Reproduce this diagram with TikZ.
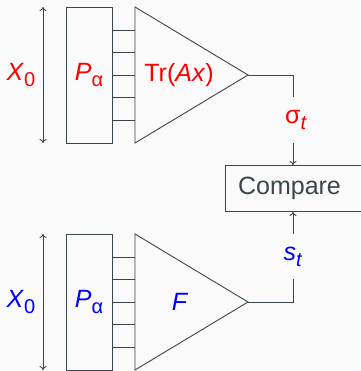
\documentclass[tikz,border=0pt]{standalone}
\usepackage{fontspec}
\setmainfont{Liberation Sans}
\usetikzlibrary{arrows.meta}
\definecolor{ln}{HTML}{3A4649}
\definecolor{bg}{HTML}{FAFAFA}
\definecolor{rd}{HTML}{FF0000}
\definecolor{bl}{HTML}{0000FF}
\newcommand{\sbs}[1]{\raisebox{-0.22em}{\fontsize{20}{22}\selectfont #1}}
\begin{document}
\begin{tikzpicture}[x=1pt,y=-1pt,
  font=\fontsize{25}{30}\selectfont,
  wire/.style={draw=ln, line width=0.9pt},
  blk/.style={draw=ln, line width=0.9pt, minimum width=46pt, minimum height=136pt, inner sep=0pt},
  lbl/.style={inner sep=0pt},
  tip/.style={wire, -{To[length=4pt,width=7pt]}},
  dbl/.style={wire, {To[length=4pt,width=7pt]}-{To[length=4pt,width=7pt]}},
  cmp/.style={draw=ln, line width=0.9pt, minimum width=136pt, minimum height=46pt, inner sep=0pt, text=ln}
]
\fill[bg] (0,0) rectangle (360,371);
\useasboundingbox (0,0) rectangle (360,371);

% ---------- top chain ----------
\coordinate (xa1) at (43,7);
\coordinate (xb1) at (43,143);
\draw[dbl] (xa1) -- (xb1);
\node[lbl, text=rd] (x1) at (21,75) {\textit{X}\sbs{0}};
\node[blk] (p1) at (89,75) {};
\node[lbl, text=rd] (p1l) at (89,75) {\textit{P}\sbs{α}};
\coordinate (ta1) at (135,7);
\coordinate (tb1) at (135,143);
\coordinate (tc1) at (248,75);
\draw[wire] (ta1) -- (tc1) -- (tb1) -- cycle;
\foreach \y [count=\i] in {30,52.5,75,97.5,120}{
  \coordinate (ls1\i) at (112,\y);
  \coordinate (le1\i) at (135,\y);
  \draw[wire] (ls1\i) -- (le1\i);
}
\node[lbl, text=rd] (tr) at (179,75) {Tr(\textit{Ax})};

% ---------- compare ----------
\node[cmp] (cmp) at (293,188.5) {};
\node[lbl, text=ln] (cmpl) at (289.5,188) {Compare};
\node[lbl, text=rd] (sig) at (296,120) {σ\sbs{\textit{t}}};
\coordinate (c1) at (293,75);
\coordinate (c1b) at (293,97);
\coordinate (c1c) at (293,143);
\draw[wire] (tc1) -- (c1) -- (c1b);
\draw[tip] (c1c) -- (cmp.north);

% ---------- bottom chain ----------
\coordinate (xa2) at (43,234);
\coordinate (xb2) at (43,370);
\draw[dbl] (xa2) -- (xb2);
\node[lbl, text=bl] (x2) at (21,302) {\textit{X}\sbs{0}};
\node[blk] (p2) at (89,302) {};
\node[lbl, text=bl] (p2l) at (89,302) {\textit{P}\sbs{α}};
\coordinate (ta2) at (135,234);
\coordinate (tb2) at (135,370);
\coordinate (tc2) at (248,302);
\draw[wire] (ta2) -- (tc2) -- (tb2) -- cycle;
\foreach \y [count=\i] in {257,279.5,302,324.5,347}{
  \coordinate (ls2\i) at (112,\y);
  \coordinate (le2\i) at (135,\y);
  \draw[wire] (ls2\i) -- (le2\i);
}
\node[lbl, text=bl] (f) at (180,302) {\textit{F}};
\node[lbl, text=bl] (st) at (293,257) {\textit{s}\sbs{\textit{t}}};
\coordinate (c2) at (293,302);
\coordinate (c2b) at (293,279);
\coordinate (c2c) at (293,234);
\draw[wire] (tc2) -- (c2) -- (c2b);
\draw[tip] (c2c) -- (cmp.south);
\end{tikzpicture}
\end{document}
